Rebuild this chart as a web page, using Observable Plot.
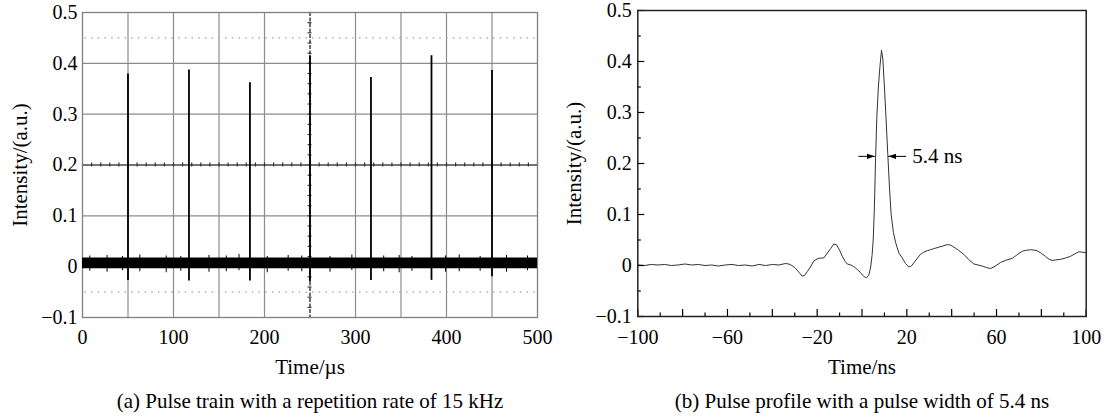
<!DOCTYPE html>
<html><head><meta charset="utf-8">
<script src="https://cdn.jsdelivr.net/npm/d3@7"></script>
<script src="https://cdn.jsdelivr.net/npm/@observablehq/plot@0.6"></script>
<style>
html,body{margin:0;padding:0;background:#fff;}
#wrap{position:relative;width:1107px;height:418px;overflow:hidden;background:#fff;}
#a{position:absolute;left:0;top:0;}
#b{position:absolute;left:555px;top:0;}
</style></head><body><div id="wrap"><div id="a"></div><div id="b"></div></div>
<script>
// ---------- Panel (a): pulse train ----------
const xTicksA = [0, 100, 200, 300, 400, 500];
const yTicks = [-0.1, 0, 0.1, 0.2, 0.3, 0.4, 0.5];
const gridXA = [50, 100, 150, 200, 250, 300, 350, 400, 450];
const gridYA = [0, 0.1, 0.3, 0.4];
const dottedYA = [0.45, -0.05];
const centerY = 0.2;
const centerX = 250;
const pulseTimes = [50, 117, 184, 250, 317, 383.5, 450];
const pulsePeaks = [0.379, 0.387, 0.362, 0.415, 0.372, 0.415, 0.386];
const pulseDips = [-0.027, -0.028, -0.028, -0.03, -0.027, -0.027, -0.02];
const bandTime = [0, 500];
const bandLow = [-0.004, -0.004];
const bandHigh = [0.017, 0.017];
// sparse noise spikes poking out of the band
const spikeTimes = [8, 27, 44, 63, 92, 108, 139, 158, 172, 203, 226, 241, 272, 296, 331, 348, 362, 399, 414, 437, 466, 489];
const spikeLows = [-0.009, -0.011, -0.008, -0.01, -0.012, -0.009, -0.011, -0.01, -0.008, -0.012, -0.009, -0.01, -0.011, -0.008, -0.01, -0.012, -0.009, -0.011, -0.01, -0.009, -0.011, -0.008];
const spikeHighs = [0.021, 0.022, 0.02, 0.023, 0.021, 0.02, 0.022, 0.021, 0.024, 0.02, 0.022, 0.021, 0.02, 0.023, 0.021, 0.022, 0.02, 0.021, 0.023, 0.02, 0.022, 0.021];
const captionA = "(a) Pulse train with a repetition rate of 15 kHz";

// ---------- Panel (b): pulse profile ----------
const xTicksB = [-100, -60, -20, 20, 60, 100];
const xMajorB = [-100, -80, -60, -40, -20, 0, 20, 40, 60, 80, 100];
const xMinorB = [-90, -70, -50, -30, -10, 10, 30, 50, 70, 90];
const yMajorB = [-0.1, 0, 0.1, 0.2, 0.3, 0.4, 0.5];
const yMinorB = [-0.05, 0.05, 0.15, 0.25, 0.35, 0.45];
const profileT = [-100,-97,-94,-91,-88,-85,-82,-79,-76,-73,-70,-67,-64,-61,-58,-55,-52,-49,-46,-43,-40,-37,-34,-32,-30,-28,-26.7,-25.5,-24.4,-23,-21.5,-19.5,-17,-15.5,-14,-12.6,-11.4,-10,-8.8,-7.5,-6.6,-5,-3.7,-2,-0.7,1,2,3,3.8,4.5,5,5.5,6,6.6,7.3,8,8.7,9.3,10,10.7,11.5,12.3,13,14,15,15.7,16.5,17.9,19.4,20.9,22,23.1,24.5,26.1,27.5,29.1,30.6,32,34.3,36,38,39.5,41,43,45.4,47.5,49.9,53.6,55.5,57.3,59.5,61.8,64,67,69.5,71.5,73.5,75.2,77,78.1,80,81.8,83.5,84.8,86.5,88.5,91,93,95,96.7,98.5,100];
const profileV = [0.001,0.000,0.002,0.001,0.002,0.000,0.001,0.003,0.001,0.002,0.000,0.001,-0.001,0.001,0.002,0.000,0.001,-0.001,0.002,0.000,0.002,0.001,0.004,0.002,-0.004,-0.014,-0.021,-0.019,-0.012,-0.003,0.009,0.014,0.015,0.024,0.033,0.042,0.041,0.030,0.018,0.008,0.003,0.001,-0.002,-0.008,-0.014,-0.022,-0.024,-0.019,-0.005,0.02,0.05,0.11,0.20,0.29,0.35,0.39,0.422,0.405,0.35,0.29,0.218,0.15,0.10,0.065,0.045,0.035,0.024,0.015,0.004,-0.003,-0.001,0.005,0.013,0.022,0.026,0.029,0.031,0.033,0.036,0.038,0.041,0.040,0.036,0.030,0.022,0.012,0.003,-0.001,-0.004,-0.006,-0.001,0.006,0.010,0.014,0.022,0.028,0.030,0.031,0.030,0.029,0.024,0.018,0.012,0.010,0.011,0.012,0.015,0.018,0.023,0.027,0.026,0.025];
const fwhmEdges = [5.7, 11.7];
const halfMax = 0.214;
const fwhmLabel = "5.4 ns";
const captionB = "(b) Pulse profile with a pulse width of 5.4 ns";

const FONT = "Liberation Serif, Times New Roman, serif";
const fmtY = d => d === 0 ? "0" : d3.format(".1f")(d);
const fmtX = d => d3.format("d")(d);

const pulses = pulseTimes.map((t, i) => ({t, peak: pulsePeaks[i], dip: pulseDips[i]}));
const band = bandTime.map((t, i) => ({t, lo: bandLow[i], hi: bandHigh[i]}));
const spikes = spikeTimes.map((t, i) => ({t, lo: spikeLows[i], hi: spikeHighs[i]}));
const profile = profileT.map((t, i) => ({t, v: profileV[i]}));

const chartA = Plot.plot({
  width: 555, height: 418,
  marginLeft: 82, marginRight: 18, marginTop: 12, marginBottom: 101,
  style: {fontFamily: FONT, fontSize: "20px", background: "white", color: "#000"},
  x: {domain: [0, 500]},
  y: {domain: [-0.1, 0.5]},
  marks: [
    Plot.ruleX(gridXA.filter(d => d !== centerX), {stroke: "#8c8c8c", strokeWidth: 1.2}),
    Plot.ruleY(gridYA, {stroke: "#8c8c8c", strokeWidth: 1.2}),
    Plot.ruleY(dottedYA, {x1: 0, x2: 500, stroke: "#a0a0a0", strokeWidth: 1.4, strokeDasharray: "1.5,5.2", strokeDashoffset: -9}),
    Plot.ruleY([centerY], {stroke: "#444", strokeWidth: 1.5}),
    Plot.ruleX(d3.range(0, 501, 10), {x: d => d, y1: centerY - 0.004, y2: centerY + 0.004, stroke: "#333", strokeWidth: 1.2}),
    Plot.ruleX([centerX], {stroke: "#333", strokeWidth: 1.4, strokeDasharray: "4,1.5"}),
    Plot.ruleY(d3.range(-0.1, 0.5001, 0.02), {y: d => d, x1: centerX - 2.2, x2: centerX + 2.2, stroke: "#333", strokeWidth: 1.1}),
    Plot.frame({stroke: "#808080", strokeWidth: 1.3}),
    Plot.areaY(band, {x: "t", y1: "lo", y2: "hi", fill: "#000"}),
    Plot.ruleX(spikes, {x: "t", y1: "lo", y2: "hi", stroke: "#000", strokeWidth: 1}),
    Plot.ruleX(pulses, {x: "t", y1: "dip", y2: "peak", stroke: "#000", strokeWidth: 1.8}),
    Plot.axisY(yTicks, {tickSize: 0, tickPadding: 5, tickFormat: fmtY, label: null, fontSize: 20}),
    Plot.axisX(xTicksA, {tickSize: 0, tickPadding: 12, tickFormat: fmtX, label: null, fontSize: 20}),
    Plot.text(["Time/µs"], {frameAnchor: "bottom", lineAnchor: "middle", textAnchor: "middle", dy: 50, fontSize: 21}),
    Plot.text(["Intensity/(a.u.)"], {frameAnchor: "left", lineAnchor: "middle", textAnchor: "middle", dx: -62, rotate: -90, fontSize: 21}),
    Plot.text([captionA], {frameAnchor: "bottom", lineAnchor: "middle", textAnchor: "middle", dy: 84, fontSize: 21})
  ]
});
document.getElementById("a").appendChild(chartA);

function filledArrow(color, context) {
  const doc = (context && context.document) || document;
  const ns = "http://www.w3.org/2000/svg";
  const m = doc.createElementNS(ns, "marker");
  m.setAttribute("viewBox", "-8 -3 9 6");
  m.setAttribute("markerWidth", 9);
  m.setAttribute("markerHeight", 6);
  m.setAttribute("markerUnits", "userSpaceOnUse");
  m.setAttribute("orient", "auto");
  m.setAttribute("fill", color);
  m.setAttribute("stroke", "none");
  const p = doc.createElementNS(ns, "path");
  p.setAttribute("d", "M-8,-2.6L0,0L-8,2.6Z");
  m.appendChild(p);
  return m;
}

const arrows = [
  {x1: fwhmEdges[0] - 7.3, x2: fwhmEdges[0], y: halfMax},
  {x1: fwhmEdges[1] + 8, x2: fwhmEdges[1], y: halfMax}
];

const chartB = Plot.plot({
  width: 552, height: 418,
  marginLeft: 82.3, marginRight: 21.3, marginTop: 10, marginBottom: 102,
  style: {fontFamily: FONT, fontSize: "20px", background: "white", color: "#000"},
  x: {domain: [-100, 100]},
  y: {domain: [-0.1, 0.5]},
  marks: [
    Plot.line(profile, {x: "t", y: "v", stroke: "#333", strokeWidth: 1}),
    Plot.link(arrows, {x1: "x1", x2: "x2", y1: "y", y2: "y", stroke: "#000", strokeWidth: 1, markerEnd: filledArrow}),
    Plot.text([fwhmLabel], {x: fwhmEdges[1] + 10.7, y: halfMax, textAnchor: "start", fontSize: 21}),
    Plot.axisY(yMajorB, {tickSize: 7, dx: 7, tickFormat: () => "", label: null, strokeWidth: 1.2}),
    Plot.axisY(yMinorB, {tickSize: 3.5, dx: 3.5, tickFormat: () => "", label: null, strokeWidth: 1.2}),
    Plot.axisX(xMajorB, {tickSize: 7, dy: -7, tickFormat: () => "", label: null, strokeWidth: 1.2}),
    Plot.axisX(xMinorB, {tickSize: 3.5, dy: -3.5, tickFormat: () => "", label: null, strokeWidth: 1.2}),
    Plot.frame({stroke: "#222", strokeWidth: 1.5}),
    Plot.axisY(yTicks, {tickSize: 0, tickPadding: 6, tickFormat: fmtY, label: null, fontSize: 20}),
    Plot.axisX(xTicksB, {tickSize: 0, tickPadding: 13, tickFormat: fmtX, label: null, fontSize: 20}),
    Plot.text(["Time/ns"], {frameAnchor: "bottom", lineAnchor: "middle", textAnchor: "middle", dy: 51, fontSize: 21}),
    Plot.text(["Intensity/(a.u.)"], {frameAnchor: "left", lineAnchor: "middle", textAnchor: "middle", dx: -64, rotate: -90, fontSize: 21}),
    Plot.text([captionB], {frameAnchor: "bottom", lineAnchor: "middle", textAnchor: "middle", dy: 85, fontSize: 21})
  ]
});
document.getElementById("b").appendChild(chartB);
</script>
</body></html>
